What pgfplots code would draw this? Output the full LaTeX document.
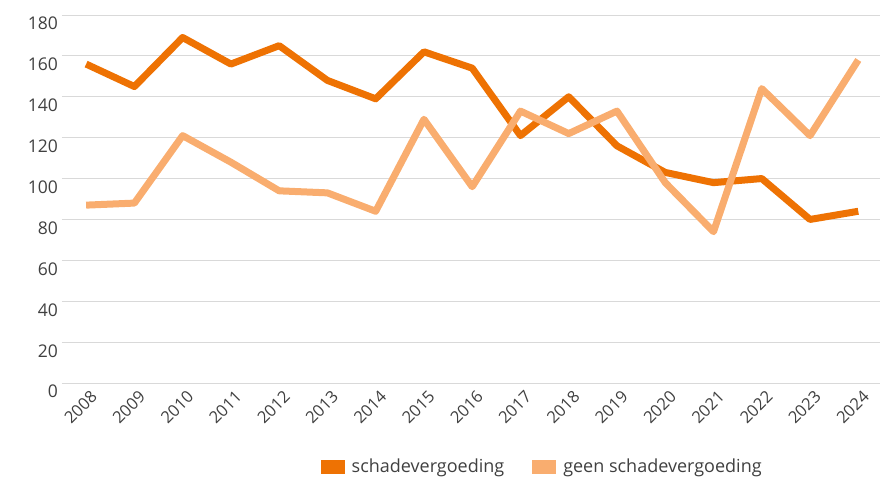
\documentclass[border=0pt]{standalone}
\usepackage{fontspec}
\setmainfont{Open Sans}
\usepackage{pgfplots}
\pgfplotsset{compat=1.18}
\definecolor{donker}{HTML}{EE7203}
\definecolor{licht}{HTML}{F9AD6F}
\definecolor{raster}{HTML}{D9D9D9}
\definecolor{tekst}{HTML}{404040}

\begin{document}
\begin{tikzpicture}
\begin{axis}[
    scale only axis,
    width=818pt, height=368pt,
    xmin=2007.5, xmax=2024.45,
    ymin=0, ymax=180,
    ytick={0,20,...,180},
    xtick={2008,...,2024},
    /pgf/number format/assume math mode=true,
    /pgf/number format/1000 sep={},
    font=\fontsize{17.5}{21}\selectfont,
    tick label style={text=tekst},
    xticklabel style={rotate=45, anchor=north east, inner sep=0pt, xshift=-2pt, yshift=-7pt,
        font=\fontsize{16.5}{20}\selectfont},
    yticklabel style={anchor=north east, inner sep=0pt, xshift=-4pt, yshift=-2pt},
    ymajorgrids,
    grid style={raster, line width=1pt},
    major tick length=0pt,
    axis x line*=bottom,
    axis y line*=left,
    y axis line style={draw=none},
    x axis line style={raster, line width=1pt, -},
    legend style={at={(0.587,-0.228)}, anchor=center, draw=none, legend columns=2,
        text=tekst, font=\fontsize{18}{21}\selectfont,
        /tikz/every odd column/.append style={column sep=5pt},
        /tikz/every even column/.append style={column sep=26pt}},
    legend image code/.code={\fill[#1, draw=none] (0pt,-7pt) rectangle (24pt,7pt);},
    legend cell align=left,
]
\addplot[donker, line width=7pt, line join=round] coordinates {
(2008,156) (2009,145) (2010,169) (2011,156) (2012,165) (2013,148) (2014,139)
(2015,162) (2016,154) (2017,121) (2018,140) (2019,116) (2020,103) (2021,98)
(2022,100) (2023,80) (2024,84)};
\addlegendentry{schadevergoeding}
\addplot[licht, line width=7pt, line join=round] coordinates {
(2008,87) (2009,88) (2010,121) (2011,108) (2012,94) (2013,93) (2014,84)
(2015,129) (2016,96) (2017,133) (2018,122) (2019,133) (2020,98) (2021,74)
(2022,144) (2023,121) (2024,158)};
\addlegendentry{geen schadevergoeding}
\end{axis}
\pgfresetboundingbox
\path (-62pt,-94pt) rectangle (824pt,383pt);
\end{tikzpicture}
\end{document}
